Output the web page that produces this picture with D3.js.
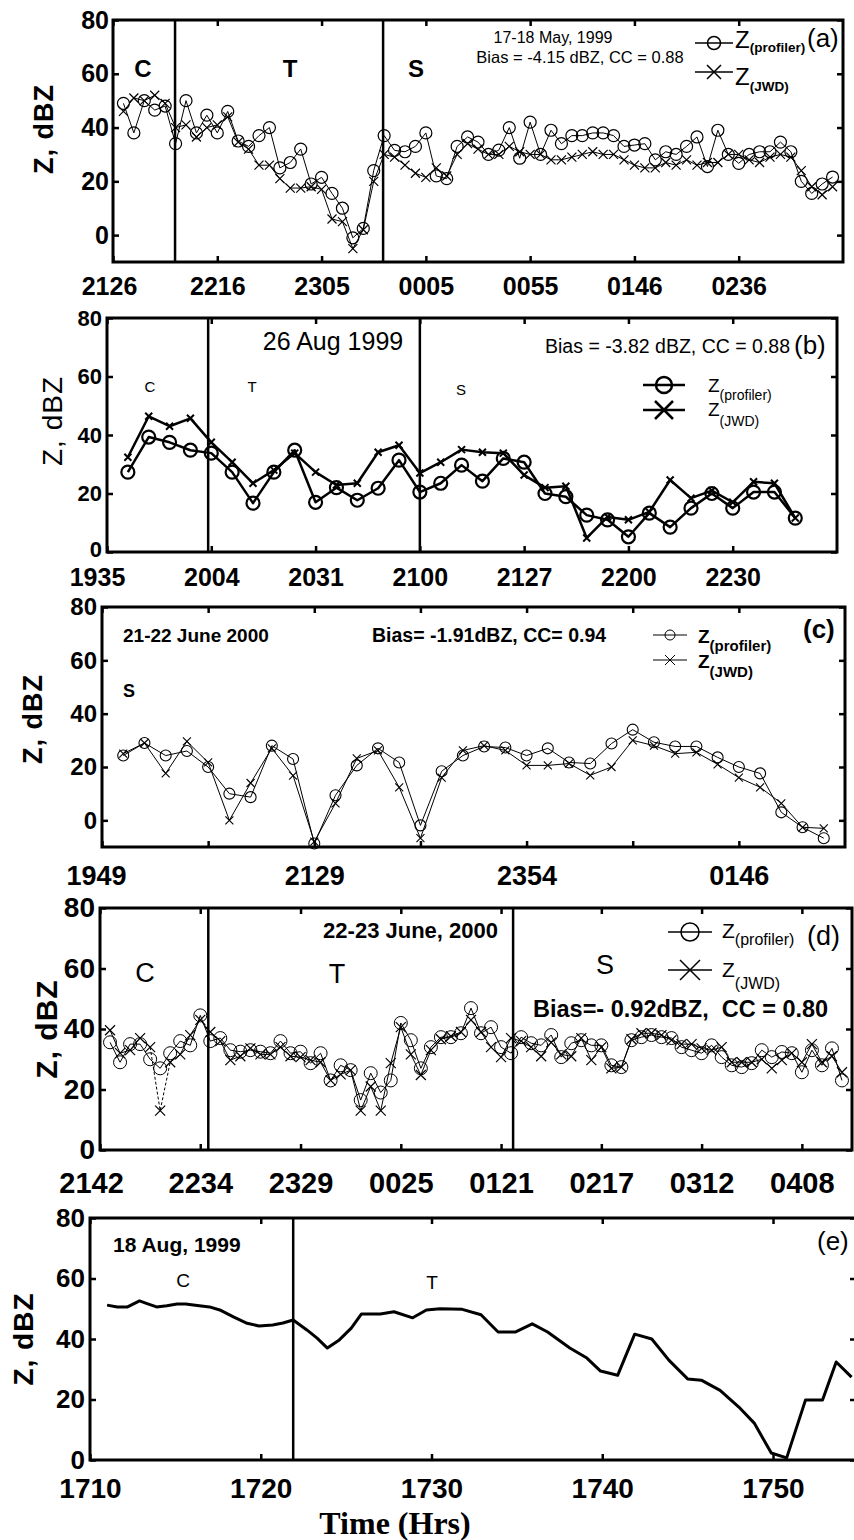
<!DOCTYPE html>
<html>
<head>
<meta charset="utf-8">
<script src="https://cdn.jsdelivr.net/npm/d3@7"></script>
<style>
body{margin:0;background:#fff}
svg{display:block}
text{font-family:"Liberation Sans",Arial,sans-serif;fill:#000}
</style>
</head>
<body>
<div id="wrap"></div>
<script>
// (a) 17-18 May 1999, one sample per index
var aLabels = ["2126","2216","2305","0005","0055","0146","0236"];
var aProfiler = [49,38,50,46.5,48,34,50,38,44.6,38,46,35,33,37,40,25,27,32,19,21.5,15.5,10,-1,2.5,24,37,
  31.5,31,33,38,22,21,33,36.5,34.6,30,31.6,40,28.6,42,30,39,34,37,37,38,38,37,33,33.5,34,28,31,30,33,36.5,
  25.5,39,30,26.7,30,31,31,34.6,31,20,15.5,19,21.6];
var aJwd = [46,51,50,52,49,40,41,36.5,40,41,44,34.6,32,26,26,21,17.5,17.5,18,17,6,5,-5,2,20,30,
  29,26,23,21.5,25,22,30,34,32,30,30,33,31,30,30,28,28,29,30,31,30,30,28,26,25,25,27,26,28,26,
  27,27,30,30,28,27,29,30,29,24,18,15,18];

// (b) 26 Aug 1999
var bLabels = ["1935","2004","2031","2100","2127","2200","2230"];
var bProfiler = [27.3,39.3,37.5,34.8,33.8,27.3,16.7,27.3,34.8,17,22,17.7,21.8,31.4,20.5,
  23.5,29.7,24.2,32,30.7,20,18.9,12.6,11,5.2,13.3,8.5,15,20,15,20.5,20.5,11.6];
var bJwd = [32.4,46.4,43,45.7,37.5,30.7,23.5,28,33.8,27.3,22.9,23.5,34.1,36.5,27,
  30.7,35,34.1,33.8,26.3,22,22.5,4.8,12,11,13.7,24.6,18.4,21,17,24,23.5,11.6];

// (c) 21-22 June 2000
var cLabels = ["1949","","2129","","2354","","0146"];
var cProfiler = [24.3,29,24.3,26,20,10,8.7,28,23,-8.7,9.4,20.6,27,21.7,-1.9,
  18.4,24.3,27.7,27.3,24.3,27,21.7,21.3,28.8,34,29.3,27.7,27.7,23.6,20,17.6,3,-2.6,-6.7];
var cJwd = [25,29,17.6,29.6,21.7,0,14,27,16.8,-8,6.4,23.2,26.2,12.4,-6.7,
  16,26.2,28,26.2,20.6,20.6,21.3,16.9,20,30,28,25,25.5,21,16,12.4,6.4,-2.6,-3];

// (d) 22-23 June 2000
var dLabels = ["2142","2234","2329","0025","0121","0217","0312","0408"];
var dProfiler = [35.6,29,35,35,30,27,32,36,34.6,44.5,36,37,33,32.5,33,32.5,32,36,32,32.5,28.7,32,23,28,26.4,
  16.5,25.4,19,23,42,36.3,27,34,
  37.3,37.3,38.6,46.9,38.6,40.6,34,32,37.3,35.3,34.6,38,30.7,35.3,36.3,34.6,34.6,28,27.4,36.3,37.3,38,37.3,
  37,34,33,32,34.6,30.7,28,27.4,28.7,33,30.7,32.4,32,25.7,33,28,33.6,23];
var dJwd = [39.6,32,33,37,34,13,29,31.6,38,43,39,36,29.7,31,33.6,31.6,31.6,34,31,30.7,29.7,29,23,25,26.4,
  13,21,13,28.7,40.6,31.6,24.8,33,
  36.6,37.6,39,43,39,34,30.7,37,36,34,31,35.6,31.6,31,37,29.7,34,27,27.4,36.6,38.6,38.6,38,36.3,35,35,
  33.6,33,34,29,29,29,30,27,29.7,32,29,35,29,31,25.7];
var dDashed = [5, 6, 7];

// (e) 18 Aug 1999
var eLabels = ["1710","1720","1730","1740","1750"];
var eTime = [1711.0,1711.6,1712.2,1712.9,1713.3,1713.9,1714.5,1715.1,1715.6,1716.4,1717.0,1717.6,1718.4,
  1719.2,1719.9,1720.7,1721.3,1721.9,1722.7,1723.3,1723.9,1724.6,1725.3,1725.9,1727.0,1727.8,1728.9,1729.7,
  1730.5,1731.8,1732.9,1733.9,1734.9,1735.9,1736.8,1738.1,1739.1,1739.9,1740.9,1741.9,1742.9,1743.9,1745.0,
  1745.8,1746.9,1748.0,1748.9,1749.9,1750.8,1751.9,1752.9,1753.7,1754.6];
var eZ = [51.2,50.6,50.6,52.6,51.8,50.6,51,51.6,51.6,51,50.6,49.6,47.3,45.2,44.3,44.6,45.3,46.3,43,40.3,
  37,39.7,43.6,48.3,48.3,49,47,49.6,50,49.8,48,42.3,42.3,45,42.3,37,33.7,29.4,28,41.6,40,33,26.8,26.4,
  23,17.5,12.2,2.3,0.7,19.8,19.8,32.4,27.4];

var w = 854;
var h = 1540;
var svg = d3.select("#wrap").append("svg").attr("width", w).attr("height", h);
var yTicks = [0, 20, 40, 60, 80];
var clipN = 0;

function styleAxis(sel, fs, weight) {
  sel.select(".domain").remove();
  sel.selectAll(".tick line").attr("stroke", "#000").attr("stroke-width", 2.5);
  sel.selectAll(".tick text").attr("font-size", fs).attr("font-weight", weight)
    .attr("font-family", "Liberation Sans, Arial, sans-serif").attr("fill", "#000");
}

function panel(o) {
  var x = d3.scaleLinear().domain(o.xDomain).range([o.left, o.right]);
  var y = d3.scaleLinear().domain(o.yDomain).range([o.bottom, o.top]);
  var g = svg.append("g");
  var cid = "clip" + (clipN++);
  g.append("clipPath").attr("id", cid).append("rect")
    .attr("x", o.left).attr("y", o.top).attr("width", o.right - o.left).attr("height", o.bottom - o.top);

  var bx = g.append("g").attr("transform", "translate(0," + o.bottom + ")")
    .call(d3.axisBottom(x).tickValues(o.xTicks).tickFormat(function(d, i){ return o.xLabels[i]; })
      .tickSize(-6).tickPadding(o.xPad))
    .call(styleAxis, o.xFont, o.xWeight);
  // first label sits a little left of its tick, as in the original
  bx.selectAll(".tick text").filter(function(d, i){ return i === 0; }).attr("dx", o.firstDx || 0);
  g.append("g").attr("transform", "translate(0," + o.top + ")")
    .call(d3.axisTop(x).tickValues(o.xTicks).tickFormat("").tickSize(-6))
    .call(styleAxis, 1, "normal");
  var ly = g.append("g").attr("transform", "translate(" + o.left + ",0)")
    .call(d3.axisLeft(y).tickValues(yTicks).tickSize(-6).tickPadding(o.yPad))
    .call(styleAxis, o.yFont, o.yWeight);
  if (o.zeroUp) ly.selectAll(".tick text").filter(function(d){ return d === 0; }).attr("y", -o.zeroUp);
  g.append("g").attr("transform", "translate(" + o.right + ",0)")
    .call(d3.axisRight(y).tickValues(yTicks).tickFormat("").tickSize(-6))
    .call(styleAxis, 1, "normal");

  g.append("rect").attr("x", o.left).attr("y", o.top)
    .attr("width", o.right - o.left).attr("height", o.bottom - o.top)
    .attr("fill", "none").attr("stroke", "#000").attr("stroke-width", 3);

  (o.dividers || []).forEach(function(v) {
    g.append("line").attr("x1", x(v)).attr("x2", x(v)).attr("y1", o.top).attr("y2", o.bottom)
      .attr("stroke", "#000").attr("stroke-width", 2.5);
  });

  g.append("text").attr("transform", "translate(" + o.ylab[0] + "," + o.ylab[1] + ") rotate(-90)")
    .attr("text-anchor", "middle").attr("dominant-baseline", "central")
    .attr("font-size", o.ylab[2]).attr("font-weight", o.ylab[3]).attr("letter-spacing", 1)
    .text("Z, dBZ");

  return {x: x, y: y, g: g, clip: "url(#" + cid + ")"};
}

function xPath(s) {
  return "M" + (-s) + "," + (-s) + "L" + s + "," + s + "M" + (-s) + "," + s + "L" + s + "," + (-s);
}

function series(p, xs, ys, st) {
  var pts = ys.map(function(v, i){ return [xs[i], v]; });
  var skip = st.dashed || [];
  var line = d3.line().x(function(d){ return p.x(d[0]); }).y(function(d){ return p.y(d[1]); });
  // the middle point of a dashed run is left out of the solid line
  p.g.append("path").datum(pts)
    .attr("d", line.defined(function(d){ return skip.length < 3 || d[0] !== skip[1]; }))
    .attr("fill", "none").attr("stroke", "#000").attr("stroke-width", st.lw)
    .attr("stroke-linejoin", "round").attr("clip-path", p.clip);
  if (skip.length) {
    p.g.append("path").datum(pts.filter(function(d){ return skip.indexOf(d[0]) >= 0; }))
      .attr("d", d3.line().x(function(d){ return p.x(d[0]); }).y(function(d){ return p.y(d[1]); }))
      .attr("fill", "none").attr("stroke", "#000").attr("stroke-width", st.lw).attr("stroke-dasharray", "3,2");
  }
  if (st.marker === "o") {
    p.g.selectAll(null).data(pts).enter().append("circle")
      .attr("cx", function(d){ return p.x(d[0]); }).attr("cy", function(d){ return p.y(d[1]); })
      .attr("r", st.size).attr("fill", "none").attr("stroke", "#000").attr("stroke-width", st.mw);
  } else if (st.marker === "x") {
    p.g.selectAll(null).data(pts).enter().append("path")
      .attr("transform", function(d){ return "translate(" + p.x(d[0]) + "," + p.y(d[1]) + ")"; })
      .attr("d", xPath(st.size)).attr("fill", "none").attr("stroke", "#000").attr("stroke-width", st.mw);
  }
}

function txt(g, x, y, s, fs, weight, anchor) {
  return g.append("text").attr("x", x).attr("y", y).attr("font-size", fs)
    .attr("font-weight", weight || "normal").attr("text-anchor", anchor || "start").text(s);
}

function legend(g, x1, x2, y, marker, r, lw, tx, tyOff, sub, fs, subFs, subDy, weight, subWeight) {
  g.append("line").attr("x1", x1).attr("x2", x2).attr("y1", y).attr("y2", y)
    .attr("stroke", "#000").attr("stroke-width", lw);
  var cx = (x1 + x2) / 2;
  if (marker === "o") {
    g.append("circle").attr("cx", cx).attr("cy", y).attr("r", r)
      .attr("fill", "none").attr("stroke", "#000").attr("stroke-width", lw);
  } else {
    g.append("path").attr("transform", "translate(" + cx + "," + y + ")").attr("d", xPath(r))
      .attr("fill", "none").attr("stroke", "#000").attr("stroke-width", lw);
  }
  var t = g.append("text").attr("x", tx).attr("y", y + tyOff).attr("font-size", fs).attr("font-weight", weight);
  t.append("tspan").text("Z");
  t.append("tspan").attr("dy", subDy).attr("font-size", subFs).attr("font-weight", subWeight).text(sub);
}

function idx(arr) { return arr.map(function(d, i){ return i + 1; }); }

// ---------- (a)
var pa = panel({left: 113, right: 843, top: 20, bottom: 262, xDomain: [0, 70], yDomain: [-10, 80],
  xTicks: [0, 10, 20, 30, 40, 50, 60], xLabels: aLabels, xPad: 15, xFont: 25, xWeight: "bold", firstDx: -4,
  yPad: 4, yFont: 25, yWeight: "bold", dividers: [5.95, 25.9], ylab: [44, 129, 27, "bold"]});
series(pa, idx(aProfiler), aProfiler, {lw: 1, marker: "o", size: 6, mw: 1.2});
series(pa, idx(aJwd), aJwd, {lw: 1, marker: "x", size: 4.5, mw: 1.2});
txt(pa.g, 143, 77, "C", 24, "bold", "middle");
txt(pa.g, 290, 77, "T", 24, "bold", "middle");
txt(pa.g, 416, 77, "S", 24, "bold", "middle");
txt(pa.g, 553, 43, "17-18 May, 1999", 16, "normal", "middle");
txt(pa.g, 580, 63, "Bias = -4.15 dBZ, CC = 0.88", 16.5, "normal", "middle");
legend(pa.g, 695, 733, 43, "o", 6.5, 1.5, 735, 5, "(profiler)", 24, 13.5, 4, "normal", "bold");
legend(pa.g, 695, 733, 72, "x", 7, 1.5, 735, 13, "(JWD)", 24, 13.5, 6, "normal", "bold");
txt(pa.g, 807, 47, "(a)", 26, "normal");

// ---------- (b)
var pb = panel({left: 107, right: 837, top: 318, bottom: 552, xDomain: [0, 35], yDomain: [0, 80],
  xTicks: [0, 5, 10, 15, 20, 25, 30], xLabels: bLabels, xPad: 16, xFont: 25, xWeight: "bold", firstDx: -10,
  yPad: 5, yFont: 22, yWeight: "bold", zeroUp: 3, dividers: [4.85, 15], ylab: [52, 421, 28, "normal"]});
series(pb, idx(bProfiler), bProfiler, {lw: 2.5, marker: "o", size: 6.5, mw: 2.2});
series(pb, idx(bJwd), bJwd, {lw: 2.5, marker: "x", size: 3.5, mw: 2});
txt(pb.g, 150, 392, "C", 15, "normal", "middle");
txt(pb.g, 252, 392, "T", 15, "normal", "middle");
txt(pb.g, 461, 395, "S", 15, "normal", "middle");
txt(pb.g, 333, 350, "26 Aug 1999", 25, "normal", "middle");
txt(pb.g, 790, 353, "Bias = -3.82 dBZ, CC = 0.88", 19.5, "normal", "end");
txt(pb.g, 794, 354, "(b)", 26, "normal");
legend(pb.g, 643, 685, 385, "o", 8, 2.5, 708, 7, "(profiler)", 19, 14, 8, "normal", "normal");
legend(pb.g, 643, 685, 410, "x", 9, 2.5, 708, 6, "(JWD)", 19, 14, 10, "normal", "normal");

// ---------- (c)
var pc = panel({left: 102, right: 845, top: 607, bottom: 847, xDomain: [0, 35], yDomain: [-10, 80],
  xTicks: [0, 5, 10, 15, 20, 25, 30], xLabels: cLabels, xPad: 19, xFont: 27, xWeight: "bold", firstDx: -6,
  yPad: 5, yFont: 24, yWeight: "bold", dividers: [], ylab: [33, 719, 27, "bold"]});
series(pc, idx(cProfiler), cProfiler, {lw: 1, marker: "o", size: 5.5, mw: 1.1});
series(pc, idx(cJwd), cJwd, {lw: 1, marker: "x", size: 4, mw: 1.1});
txt(pc.g, 123, 642, "21-22 June 2000", 19, "bold");
txt(pc.g, 123, 697, "S", 18, "bold");
txt(pc.g, 372, 642, "Bias= -1.91dBZ, CC= 0.94", 19.5, "bold");
txt(pc.g, 803, 638, "(c)", 26, "bold");
legend(pc.g, 653, 687, 635, "o", 5, 1, 698, 8, "(profiler)", 19, 15, 8, "bold", "bold");
legend(pc.g, 653, 687, 660, "x", 5, 1, 698, 8, "(JWD)", 19, 15, 9, "bold", "bold");

// ---------- (d)
var pd = panel({left: 100, right: 852, top: 908, bottom: 1150, xDomain: [0, 75], yDomain: [0, 80],
  xTicks: [0, 10, 20, 30, 40, 50, 60, 70], xLabels: dLabels, xPad: 22, xFont: 29, xWeight: "bold", firstDx: -9,
  yPad: 5, yFont: 28, yWeight: "bold", dividers: [10.8, 41.2], ylab: [46, 1029, 30, "bold"]});
series(pd, idx(dProfiler), dProfiler, {lw: 1, marker: "o", size: 6.5, mw: 1});
series(pd, idx(dJwd), dJwd, {lw: 1, marker: "x", size: 5, mw: 1.2, dashed: dDashed});
txt(pd.g, 145, 982, "C", 27, "normal", "middle");
txt(pd.g, 337, 983, "T", 27, "normal", "middle");
txt(pd.g, 605, 974, "S", 27, "normal", "middle");
txt(pd.g, 498, 938, "22-23 June, 2000", 22, "bold", "end");
txt(pd.g, 533, 1017, "Bias=- 0.92dBZ,  CC = 0.80", 23.5, "bold").attr("xml:space", "preserve");
txt(pd.g, 807, 945, "(d)", 27, "normal");
legend(pd.g, 668, 712, 932, "o", 9, 1.5, 722, 6, "(profiler)", 21, 16, 7, "normal", "normal");
legend(pd.g, 668, 712, 970, "x", 10, 1.5, 722, 7, "(JWD)", 21, 16, 12, "normal", "normal");

// ---------- (e)
var pe = panel({left: 90, right: 856, top: 1218, bottom: 1460, xDomain: [1710, 1754.86], yDomain: [0, 80],
  xTicks: [1710, 1720, 1730, 1740, 1750], xLabels: eLabels, xPad: 18, xFont: 28, xWeight: "bold",
  yPad: 5, yFont: 26, yWeight: "bold", dividers: [1721.9], ylab: [23, 1339, 28, "bold"]});
series(pe, eTime, eZ, {lw: 3, marker: "none"});
txt(pe.g, 113, 1252, "18 Aug, 1999", 21, "bold");
txt(pe.g, 183, 1287, "C", 19, "normal", "middle");
txt(pe.g, 432, 1289, "T", 19, "normal", "middle");
txt(pe.g, 817, 1250, "(e)", 26, "normal");
svg.append("text").attr("x", 395).attr("y", 1534).attr("text-anchor", "middle")
  .style("font-family", "Liberation Serif, 'Times New Roman', serif")
  .attr("font-size", 32).attr("font-weight", "bold").text("Time (Hrs)");
</script>
</body>
</html>
